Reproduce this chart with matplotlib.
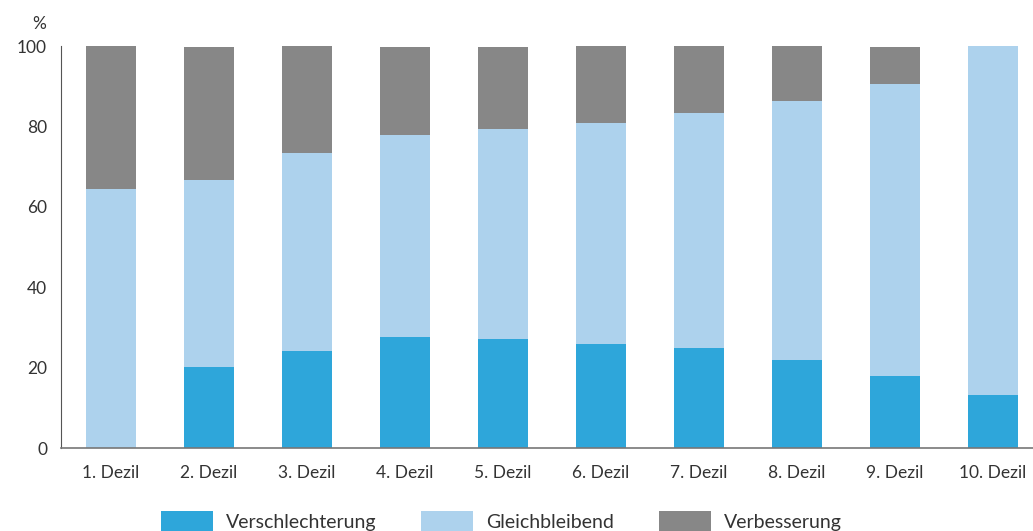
import numpy as np
import matplotlib.pyplot as plt

# Daten (Anteile in %)
dezile = ["1. Dezil", "2. Dezil", "3. Dezil", "4. Dezil", "5. Dezil",
          "6. Dezil", "7. Dezil", "8. Dezil", "9. Dezil", "10. Dezil"]
verschlechterung = [0.0, 20.1, 24.1, 27.6, 27.1, 25.9, 24.9, 21.9, 17.9, 13.2]
gleichbleibend = [64.4, 46.6, 49.3, 50.3, 52.3, 54.9, 58.4, 64.4, 72.6, 86.8]
verbesserung = [35.6, 33.1, 26.6, 22.0, 20.5, 19.2, 16.7, 13.7, 9.3, 0.0]

plt.rcParams['font.family'] = ['Lato', 'DejaVu Sans']

fig = plt.figure(figsize=(10.33, 5.31), dpi=100)
ax = fig.add_axes([0.059, 0.156, 0.941, 0.757])

x = np.arange(len(dezile))
breite = 0.51
unten2 = np.array(verschlechterung)
unten3 = unten2 + np.array(gleichbleibend)

ax.bar(x, verschlechterung, breite, color='#2EA6DA', label='Verschlechterung')
ax.bar(x, gleichbleibend, breite, bottom=unten2, color='#ADD2ED', label='Gleichbleibend')
ax.bar(x, verbesserung, breite, bottom=unten3, color='#878787', label='Verbesserung')

ax.set_xlim(-0.51, 9.41)
ax.set_ylim(0, 100)
ax.set_yticks([0, 20, 40, 60, 80, 100])
ax.set_xticks(x)
ax.set_xticklabels(dezile)
ax.tick_params(axis='both', length=0, labelsize=12.5, colors='#333333', pad=10)
ax.tick_params(axis='x', pad=12)
for s in ['top', 'right']:
    ax.spines[s].set_visible(False)
ax.spines['left'].set_color('#555555')
ax.spines['bottom'].set_color('#777777')
ax.spines['bottom'].set_linewidth(1.2)

fig.text(0.038, 0.945, '%', fontsize=12.5, color='#333333', ha='center')

fig.legend(loc='center', bbox_to_anchor=(0.4855, 0.017), ncol=3, frameon=False,
           fontsize=14, handlelength=2.68, handleheight=1.4, columnspacing=2.3,
           handletextpad=0.67, labelcolor='#333333')

fig.savefig('out.png', dpi=100)
